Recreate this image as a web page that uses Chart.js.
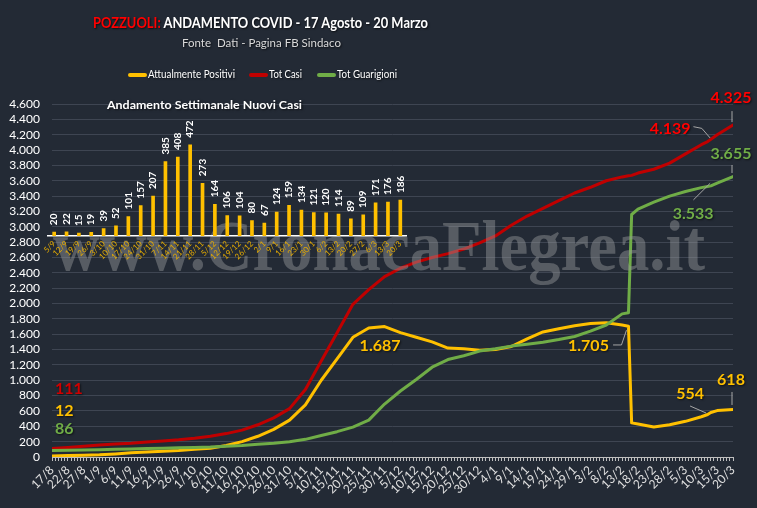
<!DOCTYPE html>
<html><head><meta charset="utf-8">
<script src="https://cdn.jsdelivr.net/npm/chart.js@4.4.1/dist/chart.umd.min.js"></script>
<style>
html,body{margin:0;padding:0;background:#232a35;}
body{width:757px;height:508px;position:relative;overflow:hidden;font-family:Lato,"Open Sans",sans-serif;}
.t{position:absolute;white-space:nowrap;line-height:1;transform-origin:0 50%;text-shadow:1px 1px 2px rgba(0,0,0,0.7);}
canvas{position:absolute;}
.sw{position:absolute;height:4px;width:19px;border-radius:2px;top:73px;}
</style></head><body>
<canvas id="main" width="757" height="508" style="left:0;top:0"></canvas>
<canvas id="inset" width="440" height="175" style="left:0;top:95px"></canvas>
<div class="t" data-w="335" style="left:93px;top:13.6px;font-size:16px;font-weight:bold;color:#fff"><span style="color:#ff0000">POZZUOLI:</span> ANDAMENTO COVID - 17 Agosto - 20 Marzo</div>
<div class="t" data-w="159" style="left:182px;top:36.7px;font-size:12px;color:#d9d9d9">Fonte&nbsp; Dati - Pagina FB Sindaco</div>
<div class="sw" style="left:128px;background:#ffc000"></div>
<div class="t" data-w="87" style="left:148px;top:67.7px;font-size:12px;color:#fff">Attualmente Positivi</div>
<div class="sw" style="left:249px;background:#c00000"></div>
<div class="t" data-w="33" style="left:269px;top:67.7px;font-size:12px;color:#fff">Tot Casi</div>
<div class="sw" style="left:317px;background:#70ad47"></div>
<div class="t" data-w="60" style="left:337px;top:67.7px;font-size:12px;color:#fff">Tot Guarigioni</div>
<div class="t" data-w="195" style="left:107px;top:99.2px;font-size:11px;font-weight:bold;color:#fff">Andamento Settimanale Nuovi Casi</div>
<script>
// ---- data ----
const days = [0,5,10,15,20,25,30,35,40,45,50,55,60,65,70,75,80,85,90,95,100,105,110,115,120,125,130,135,140,145,150,155,160,165,170,175,180,182,183,185,190,195,200,205,207,208,210,215];
const positivi = [12,18,22,28,40,55,65,75,85,100,115,150,200,270,360,480,680,1000,1280,1560,1680,1700,1620,1560,1500,1420,1410,1390,1400,1440,1540,1630,1670,1710,1740,1750,1720,1705,445,430,390,420,465,525,554,580,605,618];
const totCasi = [111,125,140,155,170,180,195,210,225,245,270,305,350,420,510,630,880,1250,1620,1990,2180,2350,2460,2540,2600,2650,2710,2790,2880,3020,3140,3240,3340,3440,3515,3600,3650,3665,3670,3700,3750,3830,3950,4070,4110,4139,4200,4325];
const totGuarigioni = [86,88,90,95,100,105,110,115,120,125,130,140,150,165,180,200,230,280,330,390,480,690,860,1010,1170,1270,1320,1380,1410,1445,1470,1495,1530,1570,1640,1720,1865,1880,3160,3230,3320,3400,3460,3510,3525,3533,3570,3655];
const xTickLabels = ['17/8','22/8','27/8','1/9','6/9','11/9','16/9','21/9','26/9','1/10','6/10','11/10','16/10','21/10','26/10','31/10','5/11','10/11','15/11','20/11','25/11','30/11','5/12','10/12','15/12','20/12','25/12','30/12','4/1','9/1','14/1','19/1','24/1','29/1','3/2','8/2','13/2','18/2','23/2','28/2','5/3','10/3','15/3','20/3'];
const weekLabels = ['5/9','12/9','19/9','26/9','3/10','10/10','17/10','24/10','31/10','7/11','14/11','21/11','28/11','5/12','12/12','19/12','26/12','2/1','9/1','16/1','23/1','30/1','6/2','13/2','20/2','27/2','6/3','13/3','20/3'];
const weeklyNew = [20,22,15,19,39,52,101,157,207,385,408,472,273,164,106,104,80,67,124,159,134,121,120,114,89,109,171,176,186];

const fmt = v => v >= 1000 ? Math.floor(v/1000) + '.' + String(v % 1000).padStart(3,'0') : String(v);
const toXY = arr => arr.map((v,i) => ({x: days[i], y: v}));

// ---- plugins ----
const valueLabels = {
  id: 'valueLabels',
  afterDatasetsDraw(chart, args, o) {
    const {ctx, scales: {x, y}} = chart;
    ctx.save();
    o.items.forEach(it => {
      const pt = chart.data.datasets[it.ds].data[days.indexOf(it.day)];
      const px = x.getPixelForValue(pt.x), py = y.getPixelForValue(pt.y);
      if (it.leader) {
        ctx.strokeStyle = o.leaderColor; ctx.lineWidth = 1;
        ctx.beginPath();
        it.leader.forEach((p, k) => k ? ctx.lineTo(px + p[0], py + p[1]) : ctx.moveTo(px + p[0], py + p[1]));
        ctx.stroke();
      }
      ctx.font = o.font; ctx.fillStyle = it.color;
      ctx.textAlign = it.align || 'center'; ctx.textBaseline = 'middle';
      ctx.shadowColor = 'rgba(0,0,0,0.6)'; ctx.shadowOffsetX = 1; ctx.shadowOffsetY = 1; ctx.shadowBlur = 2;
      ctx.fillText(it.text || fmt(pt.y), px + it.dx, py + it.dy);
      ctx.shadowColor = 'transparent';
    });
    ctx.restore();
  }
};
const watermark = {
  id: 'watermark',
  afterDraw(chart, args, o) {
    const c = chart.ctx;
    c.save();
    c.font = o.font;
    const w = c.measureText(o.text).width;
    c.translate(o.x, o.y);
    c.scale(o.width / w, 1);
    c.fillStyle = o.color;
    c.textBaseline = 'alphabetic';
    c.fillText(o.text, 0, 0);
    c.restore();
  }
};
const barLabels = {
  id: 'barLabels',
  afterDatasetsDraw(chart, args, o) {
    const ctx = chart.ctx;
    const meta = chart.getDatasetMeta(0);
    ctx.save();
    ctx.font = o.font; ctx.fillStyle = o.color;
    ctx.textAlign = 'left'; ctx.textBaseline = 'middle';
    meta.data.forEach((el, i) => {
      ctx.save();
      ctx.translate(el.x, el.y - o.gap);
      ctx.rotate(-Math.PI / 2);
      ctx.fillText(String(chart.data.datasets[0].data[i]), 0, 0);
      ctx.restore();
    });
    ctx.restore();
  }
};

// ---- main chart ----
new Chart(document.getElementById('main'), {
  type: 'line',
  data: { datasets: [
    { label: 'Attualmente Positivi', data: toXY(positivi), borderColor: '#ffc000', order: 2 },
    { label: 'Tot Casi', data: toXY(totCasi), borderColor: '#c00000', order: 1 },
    { label: 'Tot Guarigioni', data: toXY(totGuarigioni), borderColor: '#70ad47', order: 0 }
  ]},
  options: {
    responsive: false, animation: false, devicePixelRatio: 1,
    elements: { line: { borderWidth: 3, tension: 0, borderJoinStyle: 'round', borderCapStyle: 'round' }, point: { radius: 0 } },
    layout: { padding: { top: 104, left: 4, right: 24, bottom: 0 } },
    plugins: {
      legend: { display: false }, tooltip: { enabled: false },
      valueLabels: {
        font: 'bold 16px Lato', leaderColor: '#a6a6a6',
        items: [
          { ds: 1, day: 0, color: '#d00000', align: 'left', dx: 3, dy: -59.5 },
          { ds: 0, day: 0, color: '#ffc000', align: 'left', dx: 3, dy: -45 },
          { ds: 2, day: 0, color: '#70ad47', align: 'left', dx: 3, dy: -21.4 },
          { ds: 0, day: 105, text: '1.687', color: '#ffc000', dx: -4.5, dy: 19.5 },
          { ds: 0, day: 182, color: '#ffc000', dx: -40, dy: 20, leader: [[-15.4, 18.8], [-7, 18.8], [-2, 4]] },
          { ds: 0, day: 207, color: '#ffc000', dx: -17.6, dy: -20.5, leader: [[-17.6, -8.5], [-1.6, -1.5]] },
          { ds: 0, day: 215, color: '#ffc000', dx: -2, dy: -30, leader: [[-1, -17.6], [-1, -4.6]] },
          { ds: 1, day: 208, color: '#ff0000', dx: -40.7, dy: -10.4, leader: [[-17.4, -12.7], [-9, -11], [-0.7, -1.4]] },
          { ds: 1, day: 215, color: '#ff0000', dx: -2, dy: -27.6, leader: [[-1, -14], [-1, -3]] },
          { ds: 2, day: 215, color: '#70ad47', dx: -2, dy: -22.5, leader: [[-1, -11.5], [-1, -3.5]] },
          { ds: 2, day: 208, color: '#70ad47', dx: -17.7, dy: 28, leader: [[-17.4, 14], [-0.7, -2.6]] }
        ]
      },
      watermark: { text: 'www.CronacaFlegrea.it', font: 'bold 71px "Liberation Serif"', x: 53, y: 270, width: 652, color: 'rgba(150,152,156,0.45)' }
    },
    scales: {
      x: {
        type: 'linear', min: 0, max: 215,
        afterFit(s) { s.height = 51; },
        ticks: { stepSize: 1, maxTicksLimit: 500, autoSkip: false, maxRotation: 45, minRotation: 45, color: '#e0e0e0',
          font: { family: 'Lato', size: 12 }, padding: 2,
          callback: v => v % 5 === 0 ? xTickLabels[v / 5] : '' },
        grid: { drawOnChartArea: false, drawTicks: true, tickLength: 4, tickColor: '#bfbfbf' },
        border: { color: '#bfbfbf', width: 1 }
      },
      y: {
        min: 0, max: 4600,
        afterFit(s) { s.width = 48; },
        ticks: { stepSize: 200, autoSkip: false, color: '#ffffff', font: { family: 'Lato', size: 12 }, padding: 12, callback: v => fmt(v) },
        grid: { color: '#3e4552', drawTicks: false },
        border: { display: false }
      }
    }
  },
  plugins: [valueLabels, watermark]
});

// ---- inset weekly bar chart ----
new Chart(document.getElementById('inset'), {
  type: 'bar',
  data: { labels: weekLabels, datasets: [{ data: weeklyNew, backgroundColor: '#ffc000', barThickness: 3 }] },
  options: {
    responsive: false, animation: false, devicePixelRatio: 1,
    layout: { padding: { left: 48, right: 33.5, top: 25, bottom: 0 } },
    plugins: { legend: { display: false }, tooltip: { enabled: false },
      barLabels: { font: 'bold 10px Lato', color: '#ffffff', gap: 7 } },
    scales: {
      x: {
        afterFit(s) { s.height = 34; },
        grid: { display: false, drawTicks: false },
        border: { display: true, color: '#ffffff', width: 1.5 },
        ticks: { color: '#e6ac00', font: { family: 'Lato', size: 8 }, maxRotation: 45, minRotation: 45, autoSkip: false, padding: 3 }
      },
      y: { display: false, min: 0, max: 600 }
    }
  },
  plugins: [barLabels]
});

// ---- fit html text widths ----
document.querySelectorAll('.t[data-w]').forEach(el => {
  const w = el.getBoundingClientRect().width;
  el.style.transform = 'scaleX(' + (parseFloat(el.dataset.w) / w) + ')';
});
</script>
</body></html>
